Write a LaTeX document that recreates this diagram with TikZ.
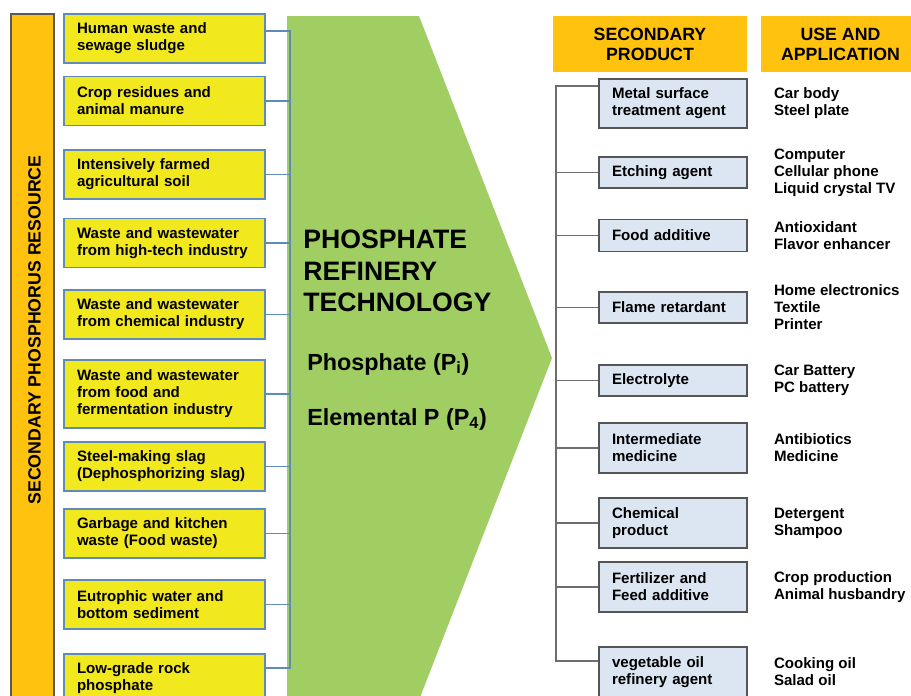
\documentclass[tikz,border=0pt]{standalone}
\usepackage{fontspec}
\setmainfont{Liberation Sans}
\usetikzlibrary{positioning}
\definecolor{resorange}{RGB}{255,194,14}
\definecolor{srcyellow}{RGB}{242,232,30}
\definecolor{srcedge}{RGB}{96,138,184}
\definecolor{refgreen}{RGB}{160,206,98}
\definecolor{prodfill}{RGB}{220,230,242}
\definecolor{prodedge}{RGB}{85,85,85}
\definecolor{treegray}{RGB}{110,110,110}
\newcommand\boxtxt{\fontsize{11.3pt}{12.8pt}\selectfont\bfseries}
\newcommand\headtxt{\fontsize{13.3pt}{15pt}\selectfont\bfseries}
\begin{document}
\begin{tikzpicture}[x=0.75pt,y=-0.75pt,
    srcbox/.style={draw=srcedge,line width=1.1pt,fill=srcyellow,text width=131.25pt,
      inner xsep=9.75pt,inner ysep=1pt,align=left,minimum height=37pt,font=\boxtxt},
    prodbox/.style={draw=prodedge,line width=1.1pt,fill=prodfill,text width=91.5pt,
      inner xsep=9.75pt,inner ysep=1pt,align=left,font=\boxtxt},
    appltext/.style={inner sep=0pt,align=left,font=\boxtxt},
    headbox/.style={fill=resorange,align=center,minimum height=42pt,font=\headtxt},
    srclink/.style={draw=srcedge,line width=1pt},
    prodlink/.style={draw=treegray,line width=1pt}]
  \useasboundingbox (0,0) rectangle (911,696);
  \clip (0,0) rectangle (911,696);

  \draw[fill=resorange,draw=black!65,line width=1.1pt] (11,14) rectangle (54,712);
  \node[rotate=90,font=\headtxt,inner sep=0pt] (reslabel) at (34.5,330)
    {SECONDARY PHOSPHORUS RESOURCE};

  \fill[refgreen] (287,16) -- (419,16) -- (552,358) -- (419,700) -- (287,700) -- cycle;

  \node[srcbox] (s1) at (164.5,38.5) {Human waste and\\sewage sludge};
  \node[srcbox] (s2) at (164.5,101) {Crop residues and\\animal manure};
  \node[srcbox] (s3) at (164.5,174.5) {Intensively farmed\\agricultural soil};
  \node[srcbox] (s4) at (164.5,243) {Waste and wastewater\\from high-tech industry};
  \node[srcbox] (s5) at (164.5,314.5) {Waste and wastewater\\from chemical industry};
  \node[srcbox,minimum height=51pt] (s6) at (164.5,394) {Waste and wastewater\\from food and\\fermentation industry};
  \node[srcbox] (s7) at (164.5,466.5) {Steel-making slag\\(Dephosphorizing slag)};
  \node[srcbox] (s8) at (164.5,533.5) {Garbage and kitchen\\waste (Food waste)};
  \node[srcbox] (s9) at (164.5,604.5) {Eutrophic water and\\bottom sediment};
  \node[srcbox] (s10) at (164.5,678.5) {Low-grade rock\\phosphate};

  \coordinate (jtop) at (290,31);
  \coordinate (jbot) at (290,668);
  \begin{scope}[srclink]
    \draw (s1.east |- jtop) -- (jtop) -- (jbot) -- (s10.east |- jbot);
    \draw (s2.east) -- (s2.east -| jtop);
    \draw (s3.east) -- (s3.east -| jtop);
    \draw (s4.east) -- (s4.east -| jtop);
    \draw (s5.east) -- (s5.east -| jtop);
    \draw (s6.east) -- (s6.east -| jtop);
    \draw (s7.east) -- (s7.east -| jtop);
    \draw (s8.east) -- (s8.east -| jtop);
    \draw (s9.east) -- (s9.east -| jtop);
  \end{scope}

  \node[anchor=west,align=left,inner sep=0pt,font=\fontsize{20pt}{23.6pt}\selectfont\bfseries]
    (tech) at (303,271) {PHOSPHATE\\REFINERY\\TECHNOLOGY};
  \node[anchor=base west,inner sep=0pt,font=\fontsize{17.5pt}{20pt}\selectfont\bfseries]
    (phosi) at (307,370) {Phosphate (P\textsubscript{i})};
  \node[anchor=base west,inner sep=0pt,font=\fontsize{17.5pt}{20pt}\selectfont\bfseries]
    (phos4) at (307,425) {Elemental P (P\textsubscript{4})};

  \node[headbox,minimum width=145.5pt] (hprod) at (650,44) {SECONDARY\\PRODUCT};
  \node[headbox,minimum width=119.25pt] (huse) at (840.5,44) {USE AND\\APPLICATION};

  \node[prodbox,minimum height=37pt] (p1) at (673,103.5) {Metal surface\\treatment agent};
  \node[prodbox,minimum height=23.5pt] (p2) at (673,172.5) {Etching agent};
  \node[prodbox,minimum height=24pt] (p3) at (673,235.5) {Food additive};
  \node[prodbox,minimum height=23.5pt] (p4) at (673,307.5) {Flame retardant};
  \node[prodbox,minimum height=23.5pt] (p5) at (673,380.5) {Electrolyte};
  \node[prodbox,minimum height=37.5pt] (p6) at (673,448) {Intermediate\\medicine};
  \node[prodbox,minimum height=37.5pt] (p7) at (673,523) {Chemical\\product};
  \node[prodbox,minimum height=37.5pt] (p8) at (673,587) {Fertilizer and\\Feed additive};
  \node[prodbox,minimum height=37.5pt] (p9) at (673,672) {vegetable oil\\refinery agent};

  \coordinate (ttop) at (556,86);
  \coordinate (tbot) at (556,661);
  \begin{scope}[prodlink]
    \draw (p1.west |- ttop) -- (ttop) -- (tbot) -- (p9.west |- tbot);
    \draw (p2.west) -- (p2.west -| ttop);
    \draw (p3.west) -- (p3.west -| ttop);
    \draw (p4.west) -- (p4.west -| ttop);
    \draw (p5.west) -- (p5.west -| ttop);
    \draw (p6.west) -- (p6.west -| ttop);
    \draw (p7.west) -- (p7.west -| ttop);
    \draw (p8.west) -- (p8.west -| ttop);
  \end{scope}

  \node[appltext,right=19.5pt of p1] (u1) {Car body\\Steel plate};
  \node[appltext,right=19.5pt of p2] (u2) {Computer\\Cellular phone\\Liquid crystal TV};
  \node[appltext,right=19.5pt of p3] (u3) {Antioxidant\\Flavor enhancer};
  \node[appltext,right=19.5pt of p4] (u4) {Home electronics\\Textile\\Printer};
  \node[appltext,right=19.5pt of p5] (u5) {Car Battery\\PC battery};
  \node[appltext,right=19.5pt of p6] (u6) {Antibiotics\\Medicine};
  \node[appltext,right=19.5pt of p7] (u7) {Detergent\\Shampoo};
  \node[appltext,right=19.5pt of p8] (u8) {Crop production\\Animal husbandry};
  \node[appltext,right=19.5pt of p9] (u9) {Cooking oil\\Salad oil};
\end{tikzpicture}
\end{document}
